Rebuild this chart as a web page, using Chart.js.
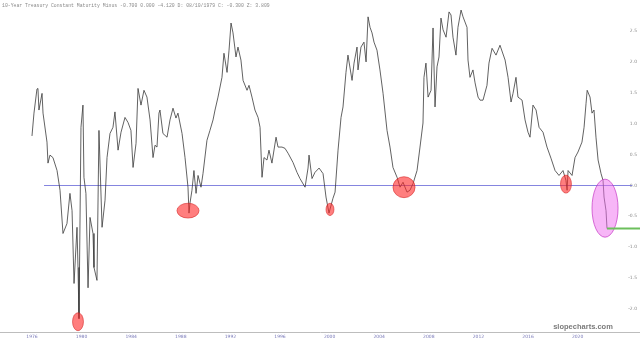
<!DOCTYPE html>
<html>
<head>
<meta charset="utf-8">
<script src="https://cdn.jsdelivr.net/npm/chart.js@4.4.0/dist/chart.umd.min.js"></script>
<style>
html,body{margin:0;padding:0;background:#fff;}
#wrap{position:relative;width:640px;height:343px;}
</style>
</head>
<body>
<div id="wrap"><canvas id="c" width="640" height="343"></canvas></div>
<script>
// ---- data (decimal year, spread %) ----
const years = [1976.00,1976.16,1976.40,1976.48,1976.56,1976.81,1976.89,1977.21,1977.29,1977.45,1977.69,1978.02,1978.26,1978.50,1978.82,1979.06,1979.23,1979.39,1979.63,1979.71,1979.79,1979.95,1980.11,1980.19,1980.35,1980.52,1980.68,1980.92,1981.00,1981.24,1981.40,1981.65,1981.89,1982.05,1982.29,1982.53,1982.69,1982.94,1983.18,1983.50,1983.74,1983.98,1984.15,1984.39,1984.55,1984.79,1985.03,1985.27,1985.52,1985.76,1985.92,1986.08,1986.24,1986.32,1986.56,1986.89,1987.13,1987.37,1987.61,1987.77,1988.10,1988.34,1988.58,1988.66,1988.74,1988.90,1989.06,1989.23,1989.39,1989.63,1989.79,1990.11,1990.35,1990.60,1990.76,1991.00,1991.32,1991.48,1991.73,1991.89,1992.05,1992.21,1992.45,1992.61,1992.85,1993.02,1993.34,1993.50,1993.74,1993.98,1994.23,1994.39,1994.55,1994.71,1994.95,1995.11,1995.35,1995.68,1995.84,1996.16,1996.40,1996.65,1997.05,1997.37,1997.61,1998.02,1998.26,1998.34,1998.58,1998.82,1999.15,1999.47,1999.71,1999.95,2000.27,2000.44,2000.68,2000.92,2001.08,2001.32,2001.48,2001.81,2001.97,2002.21,2002.29,2002.53,2002.77,2002.94,2003.10,2003.26,2003.42,2003.58,2003.82,2004.06,2004.31,2004.63,2004.87,2005.11,2005.44,2005.68,2005.92,2006.24,2006.48,2006.73,2007.05,2007.29,2007.53,2007.61,2007.77,2007.94,2008.18,2008.34,2008.50,2008.66,2008.82,2008.98,2009.15,2009.39,2009.63,2009.79,2009.95,2010.19,2010.35,2010.60,2010.76,2011.08,2011.16,2011.32,2011.56,2011.73,2011.97,2012.13,2012.37,2012.69,2012.85,2013.10,2013.42,2013.74,2014.15,2014.39,2014.63,2014.79,2015.03,2015.19,2015.52,2015.76,2016.00,2016.16,2016.40,2016.65,2016.89,2017.21,2017.53,2017.85,2018.18,2018.50,2018.82,2019.06,2019.15,2019.23,2019.55,2019.79,2020.03,2020.35,2020.52,2020.68,2020.77,2021.00,2021.16,2021.32,2021.48,2021.65,2021.89,2022.05,2022.13,2022.29,2022.37];
const spread = [0.80,1.17,1.56,1.57,1.22,1.49,1.17,0.70,0.36,0.49,0.45,0.24,-0.08,-0.78,-0.62,-0.13,-0.41,-1.59,-0.68,-1.33,-2.16,0.94,1.30,0.13,-0.13,-1.66,-0.52,-0.78,-1.33,-1.54,0.89,-0.68,-0.24,0.45,0.84,0.94,1.19,0.57,0.86,1.10,1.02,0.89,0.29,0.68,1.57,1.30,1.54,1.43,1.06,0.45,0.65,0.62,1.17,1.22,0.84,0.78,1.06,1.25,1.09,1.17,0.84,0.45,-0.03,-0.45,-0.29,-0.08,0.24,-0.13,0.16,-0.03,0.19,0.73,0.89,1.06,1.22,1.43,1.75,2.14,1.83,2.19,2.63,2.47,2.08,2.24,2.03,1.70,1.54,1.62,1.43,1.22,1.10,0.94,0.13,0.45,0.41,0.57,0.36,0.78,0.62,0.62,0.60,0.52,0.37,0.21,0.11,-0.03,0.28,0.49,0.11,0.21,0.28,0.19,-0.19,-0.45,-0.21,-0.11,0.57,1.10,1.27,1.83,2.11,1.70,1.98,2.24,1.87,2.24,2.32,2.00,2.73,2.56,2.47,2.32,2.19,1.87,1.49,0.89,0.62,0.29,0.13,-0.03,0.05,-0.11,-0.08,0.03,0.24,0.62,1.01,1.75,1.98,1.43,1.54,2.55,1.27,1.92,2.08,2.71,2.52,2.40,2.81,2.76,2.40,2.11,2.56,2.84,2.73,2.56,2.03,1.75,1.87,1.66,1.43,1.38,1.38,1.62,1.98,2.22,2.11,2.27,2.03,1.75,1.35,1.49,1.75,1.43,1.38,1.06,0.86,0.78,1.30,1.22,0.94,0.86,0.62,0.44,0.24,0.16,0.24,0.08,-0.08,0.24,0.16,0.45,0.54,0.70,0.94,1.33,1.54,1.43,1.17,1.22,0.78,0.41,0.19,0.08,-0.19,-0.41,-0.70];
const xTickYears = [1976,1980,1984,1988,1992,1996,2000,2004,2008,2012,2016,2020];
const yTickValues = [-2.0,-1.5,-1.0,-0.5,0.0,0.5,1.0,1.5,2.0,2.5];
const zeroLine = {x0:1976.97, x1:2024.4, y:0};
const lastLine = {x0:2022.37, x1:2025.1, y:-0.70};
// ellipses: [centerYear, centerValue, radiusYears, radiusValue]
const redMarks = [[1979.71,-2.21,0.44,0.146],[1988.58,-0.41,0.89,0.12],[2000.03,-0.39,0.32,0.10],[2006.0,-0.03,0.89,0.17],[2019.06,0.02,0.44,0.146]];
const pinkMark = [2022.21,-0.37,1.05,0.47];
const titleText = "10-Year Treasury Constant Maturity Minus -0.700 0.000 -4.120 D: 08/10/1979 C: -0.300 Z: 3.809";

const pts = years.map((x,i)=>({x:x,y:spread[i]}));

const overlay = {
  id:'overlay',
  beforeDatasetsDraw(chart){
    const {ctx, scales:{x,y}} = chart;
    ctx.save();
    ctx.strokeStyle='rgba(120,120,220,0.9)';
    ctx.lineWidth=1;
    ctx.beginPath();
    const yy=Math.round(y.getPixelForValue(zeroLine.y))+0.5;
    ctx.moveTo(x.getPixelForValue(zeroLine.x0),yy);
    ctx.lineTo(x.getPixelForValue(zeroLine.x1),yy);
    ctx.stroke();
    ctx.restore();
  },
  afterDatasetsDraw(chart){
    const {ctx, scales:{x,y}} = chart;
    ctx.save();
    function ell(m, fill, stroke){
      const cx=x.getPixelForValue(m[0]), cy=y.getPixelForValue(m[1]);
      const rx=Math.abs(x.getPixelForValue(m[0]+m[2])-cx), ry=Math.abs(y.getPixelForValue(m[1]+m[3])-cy);
      ctx.beginPath(); ctx.ellipse(cx,cy,rx,ry,0,0,Math.PI*2);
      ctx.fillStyle=fill; ctx.fill();
      ctx.strokeStyle=stroke; ctx.lineWidth=0.8; ctx.stroke();
    }
    redMarks.forEach(m=>ell(m,'rgba(255,40,40,0.6)','rgba(210,30,30,0.7)'));
    ell(pinkMark,'rgba(240,110,240,0.5)','rgba(190,40,190,0.8)');
    ctx.strokeStyle='#6cbf5c'; ctx.lineWidth=2;
    ctx.beginPath();
    const gy=y.getPixelForValue(lastLine.y);
    ctx.moveTo(x.getPixelForValue(lastLine.x0),gy);
    ctx.lineTo(x.getPixelForValue(lastLine.x1),gy);
    ctx.stroke();
    // title & watermark
    ctx.fillStyle='#8a8a8a';
    ctx.font='4.8px "Liberation Mono", "DejaVu Sans Mono", monospace';
    ctx.textBaseline='middle'; ctx.textAlign='left';
    ctx.fillText(titleText,2,6);
    ctx.fillStyle='#7a7a7a';
    ctx.font='bold 7.5px "Liberation Sans", Arial, sans-serif';
    ctx.textAlign='center';
    ctx.fillText('slopecharts.com',583,327);
    ctx.restore();
  }
};

new Chart(document.getElementById('c'),{
  type:'line',
  data:{datasets:[{data:pts,borderColor:'#3a3a3a',borderWidth:0.8,pointRadius:0,tension:0,fill:false,clip:false}]},
  options:{
    responsive:false,animation:false,
    layout:{padding:{left:0,right:0,top:0,bottom:1}},
    plugins:{legend:{display:false},tooltip:{enabled:false}},
    scales:{
      x:{type:'linear',min:1973.42,max:2025.03,
        afterBuildTicks(s){s.ticks=xTickYears.map(v=>({value:v}));},
        grid:{display:true,color:'rgba(0,0,0,0)',drawTicks:false},
        border:{display:true,color:'#bdbdbd',width:1},
        ticks:{font:{size:4.5,family:'"DejaVu Sans", sans-serif'},color:'#7878b8',padding:2,maxRotation:0,autoSkip:false,callback:v=>String(v)}},
      y:{type:'linear',position:'right',min:-2.386,max:3.003,
        afterBuildTicks(s){s.ticks=yTickValues.map(v=>({value:v}));},
        afterFit(s){s.width=0;},
        grid:{display:true,color:'rgba(0,0,0,0)',drawTicks:false},
        border:{display:false},
        ticks:{mirror:true,padding:-3,font:{size:4.5,family:'"DejaVu Sans", sans-serif'},color:'#8a8a8a',callback:v=>v.toFixed(1)}}
    }
  },
  plugins:[overlay]
});
</script>
</body>
</html>
